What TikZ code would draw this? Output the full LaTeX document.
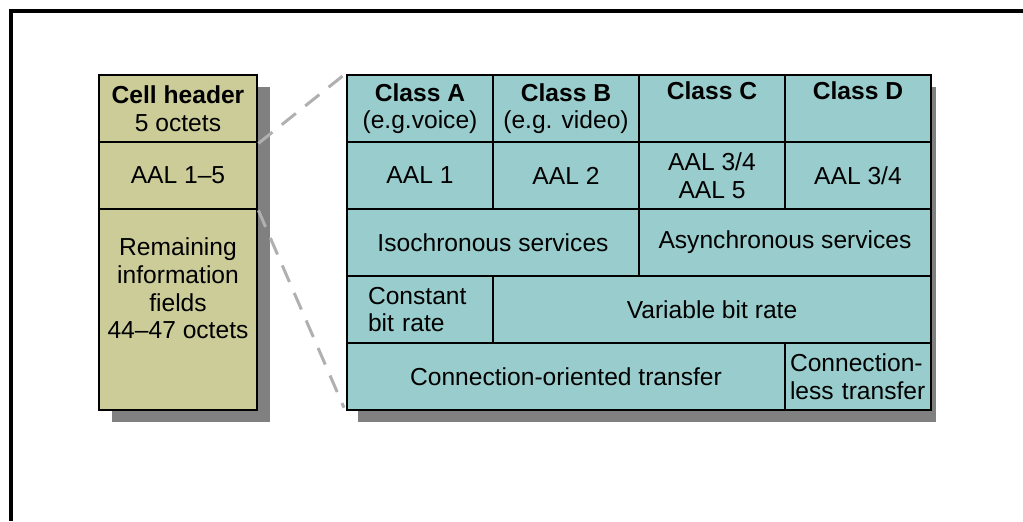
\documentclass[tikz,border=0pt]{standalone}
\usepackage{fontspec}
\setmainfont{Liberation Sans}
\definecolor{hdrfill}{HTML}{CCCC99}
\definecolor{aalfill}{HTML}{99CCCC}
\definecolor{shadowgray}{HTML}{808080}
\definecolor{zoomline}{HTML}{B0B0B0}
\newcommand{\txt}{\fontsize{12.3}{13.8}\selectfont}
\tikzset{
  cell/.style 2 args={draw,line width=1.4pt,fill=aalfill,minimum width=#1*0.5pt,minimum height=#2*0.5pt,inner sep=0pt,align=center,font=\txt},
  hdrcell/.style 2 args={cell={#1}{#2},fill=hdrfill},
  zoomto/.style={draw=zoomline,line width=1.5pt,dash pattern=on 9pt off 6pt,shorten >=2pt}
}

\begin{document}
\begin{tikzpicture}[x=0.5pt,y=-0.5pt]
\useasboundingbox (0,0) rectangle (1023,521);
\draw[line width=2pt,line join=miter] (11,521) -- (11,11) -- (1023,11);
% shadows
\fill[shadowgray] (112,87) rectangle (270,422);
\fill[shadowgray] (358,87) rectangle (936,422);
% cell
\node[hdrcell={158}{67}] (hdr) at (178,108.5) {\textbf{Cell header}\\5 octets};
\node[hdrcell={158}{67}] (aal) at (178,175.5) {AAL 1--5};
\node[hdrcell={158}{201},label={[anchor=north,yshift=-15pt,inner sep=0pt,align=center,font=\txt]north:Remaining\\information\\fields\\44--47 octets}] (rem) at (178,309.5) {};
% classes
\node[cell={146}{67}] (clA) at (420,108.5) {\textbf{Class A}\\(e.g.voice)};
\node[cell={146}{67}] (clB) at (566,108.5) {\textbf{Class B}\\(e.g. video)};
\node[cell={146}{67}] (clC) at (712,108.5) {\textbf{Class C}\\\strut};
\node[cell={146}{67}] (clD) at (858,108.5) {\textbf{Class D}\\\strut};
\foreach \n/\x/\t in {aal1/420/{AAL 1},aal2/566/{AAL 2},aal3/712/{AAL 3/4\\AAL 5},aal4/858/{AAL 3/4}}
  \node[cell={146}{67}] (\n) at (\x,175.5) {\t};
\node[cell={292}{67}] (iso) at (493,242.5) {Isochronous services};
\node[cell={292}{67}] (async) at (785,242.5) {Asynchronous services};
\node[cell={146}{67},align=left,text width=52pt] (cbr) at (420,309.5) {Constant\\bit rate};
\node[cell={438}{67}] (vbr) at (712,309.5) {Variable bit rate};
\node[cell={438}{67}] (cot) at (566,376.5) {Connection-oriented transfer};
\node[cell={146}{67},align=left,text width=68pt] (clt) at (858,376.5) {Connection-\\less transfer};
% zoom lines
\draw[zoomto] (hdr.south east) -- (clA.north west);
\draw[zoomto] (aal.south east) -- (cot.south west);
\end{tikzpicture}
\end{document}
